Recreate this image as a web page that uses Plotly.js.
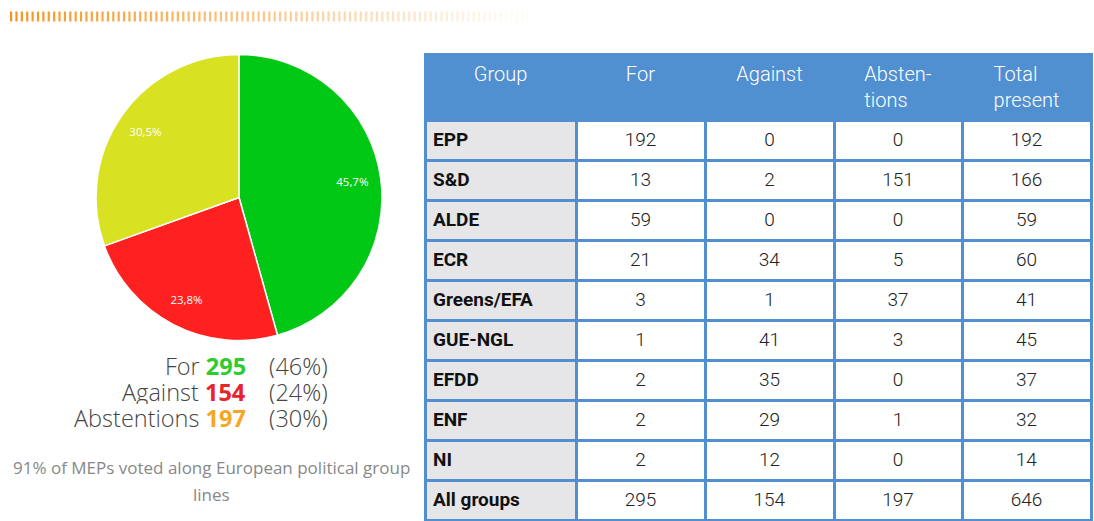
<!DOCTYPE html>
<html>
<head>
<meta charset="utf-8">
<script src="https://cdn.plot.ly/plotly-3.0.1.min.js"></script>
<style>
  html, body { margin: 0; padding: 0; background: #fff; }
  #chart { width: 1094px; height: 521px; }
</style>
</head>
<body>
<div id="chart"></div>
<script>
// ---- data ----
const voteLabels = ['For', 'Against', 'Abstentions'];
const voteCounts = [295, 154, 197];
const sliceColors = ['#00c814', '#ff2020', '#d8e222'];
const countColors = ['#2ecc2e', '#e8232a', '#f5a623'];

const captionLines = ['91% of MEPs voted along European political group', 'lines'];

const headerLabels = ['Group', 'For', 'Against', 'Absten-<br>tions', 'Total<br>present'];
const groups = ['EPP', 'S&D', 'ALDE', 'ECR', 'Greens/EFA', 'GUE-NGL', 'EFDD', 'ENF', 'NI', 'All groups'];
const forVotes = [192, 13, 59, 21, 3, 1, 2, 2, 2, 295];
const againstVotes = [0, 2, 0, 34, 1, 41, 35, 29, 12, 154];
const abstentionVotes = [0, 151, 0, 5, 37, 3, 0, 1, 0, 197];
const totalPresent = [192, 166, 59, 60, 41, 45, 37, 32, 14, 646];

// ---- layout helpers ----
const W = 1094, H = 521;
const px = x => x / W;
const py = y => 1 - y / H;

const total = voteCounts.reduce((a, b) => a + b, 0);
const pieDomain = { x: [px(96), px(382)], y: [py(340.5), py(54.5)] };

const pie = {
  type: 'pie',
  values: voteCounts,
  labels: voteLabels,
  marker: { colors: sliceColors, line: { color: '#ffffff', width: 1.5 } },
  sort: false,
  direction: 'clockwise',
  rotation: 0,
  textinfo: 'none',
  hoverinfo: 'none',
  showlegend: false,
  domain: pieDomain
};
// transparent ring carrying the percentage labels at ~0.8 radius
const pieLabels = {
  type: 'pie',
  values: voteCounts,
  labels: voteLabels,
  hole: 0.6,
  marker: { colors: ['rgba(0,0,0,0)', 'rgba(0,0,0,0)', 'rgba(0,0,0,0)'], line: { width: 0 } },
  sort: false,
  direction: 'clockwise',
  rotation: 0,
  texttemplate: '%{percent:.1%}',
  textposition: 'inside',
  insidetextorientation: 'horizontal',
  textfont: { family: 'Open Sans, sans-serif', size: 11.5, color: '#ffffff' },
  hoverinfo: 'none',
  showlegend: false,
  domain: pieDomain
};

const wrap = v => '<span>' + v + '</span>';
const tableLine = '#5190d0';
const cellFont = 'Roboto Light, Roboto, sans-serif';
const table = {
  type: 'table',
  domain: { x: [px(425), px(1091)], y: [0, py(54)] },
  columnwidth: [151, 129, 129, 128, 129],
  header: {
    values: headerLabels.map(wrap),
    align: 'center',
    height: 66,
    fill: { color: tableLine },
    line: { color: tableLine, width: 3 },
    font: { family: cellFont, size: 20, color: '#ffffff', weight: 300 }
  },
  cells: {
    values: [
      groups.map(g => '<b>' + g + '</b>'),
      forVotes.map(wrap), againstVotes.map(wrap), abstentionVotes.map(wrap), totalPresent.map(wrap)
    ],
    align: ['left', 'center', 'center', 'center', 'center'],
    height: 40,
    fill: { color: ['#e6e6e8', '#ffffff', '#ffffff', '#ffffff', '#ffffff'] },
    line: { color: tableLine, width: 3 },
    font: {
      family: ['Roboto, sans-serif', cellFont, cellFont, cellFont, cellFont],
      size: 19,
      color: ['#111111', '#222222', '#222222', '#222222', '#222222'],
      weight: 300
    }
  }
};

// summary lines under the pie
const sumFont = { family: 'Open Sans Light, Open Sans, sans-serif', size: 23.5, color: '#444444', weight: 300 };
const lineY = [366, 392, 418];
const annotations = [];
voteLabels.forEach((lab, i) => {
  annotations.push({
    xref: 'paper', yref: 'paper', x: px(248), y: py(lineY[i]),
    xanchor: 'right', yanchor: 'middle', showarrow: false, height: 24,
    text: lab + ' <span style="font-family:Open Sans;font-weight:bold;color:' + countColors[i] + '">' + voteCounts[i] + '</span>',
    font: sumFont
  });
  annotations.push({
    xref: 'paper', yref: 'paper', x: px(267), y: py(lineY[i]),
    xanchor: 'left', yanchor: 'middle', showarrow: false, height: 24,
    text: '(' + Math.round(voteCounts[i] / total * 100) + '%)',
    font: sumFont
  });
});
const capY = [467, 494];
captionLines.forEach((t, i) => {
  annotations.push({
    xref: 'paper', yref: 'paper', x: px(211), y: py(capY[i]),
    xanchor: 'center', yanchor: 'middle', showarrow: false,
    text: t,
    font: { family: 'Open Sans, sans-serif', size: 17, color: '#888888' }
  });
});

// decorative dashed fading bar at the top
const shapes = [];
const nDash = 97;
for (let i = 0; i < nDash; i++) {
  const x0 = 10 + i * 5.38;
  shapes.push({
    type: 'rect', xref: 'paper', yref: 'paper',
    x0: px(x0), x1: px(x0 + 2.2), y0: py(21.5), y1: py(11.5),
    fillcolor: '#f7941d', line: { width: 0 },
    opacity: Math.max(0.04, 1 - i / nDash)
  });
}

const layout = {
  width: W, height: H,
  margin: { l: 0, r: 0, t: 0, b: 0 },
  paper_bgcolor: '#ffffff',
  separators: ',.',
  annotations: annotations,
  shapes: shapes,
  showlegend: false
};

Plotly.newPlot('chart', [pie, pieLabels, table], layout, { displayModeBar: false, staticPlot: true });
</script>
</body>
</html>
